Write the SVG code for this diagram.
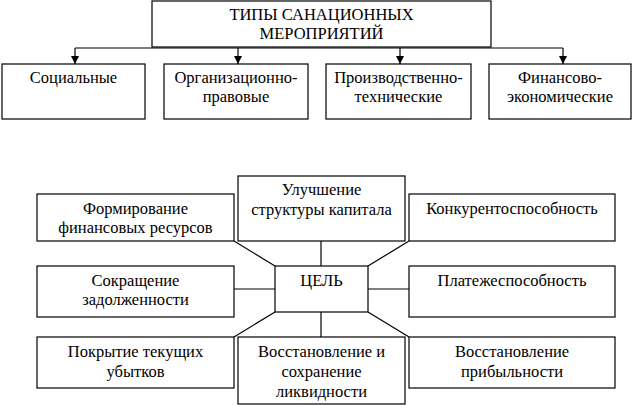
<svg xmlns="http://www.w3.org/2000/svg" width="633" height="405" viewBox="0 0 633 405">
<defs>
<style>
.b{fill:#fff;stroke:#000;stroke-width:1.2}
.t{font-family:'Liberation Serif','DejaVu Serif','Times New Roman',serif;font-size:16.5px;fill:#000;text-anchor:middle}
.c{stroke:#000;stroke-width:1.2;fill:none}
</style>
<marker id="ah" viewBox="0 0 8 10" refX="8" refY="5" markerWidth="8" markerHeight="10" markerUnits="userSpaceOnUse" orient="auto">
<path d="M0,1 L8,5 L0,9 z" fill="#000"/>
</marker>
</defs>
<rect width="633" height="405" fill="#fff"/>
<g id="connectors">
<path class="c" d="M75,48 H563"/>
<path class="c" d="M75,48 V64" marker-end="url(#ah)"/>
<path class="c" d="M238,48 V64" marker-end="url(#ah)"/>
<path class="c" d="M400,48 V64" marker-end="url(#ah)"/>
<path class="c" d="M563,48 V64" marker-end="url(#ah)"/>
<path class="c" d="M234,241 L275,266"/>
<path class="c" d="M321,241 V266"/>
<path class="c" d="M409,241 L368,266"/>
<path class="c" d="M234,289 H275"/>
<path class="c" d="M368,289 H409"/>
<path class="c" d="M275,312 L234,337"/>
<path class="c" d="M321,312 V337"/>
<path class="c" d="M368,312 L409,337"/>
</g>
<g id="top">
<rect class="b" x="152" y="1" width="339" height="46"/>
<text class="t" x="321.5" y="20">ТИПЫ САНАЦИОННЫХ</text>
<text class="t" x="321.5" y="39">МЕРОПРИЯТИЙ</text>
</g>
<g id="social">
<rect class="b" x="2" y="64" width="143" height="55"/>
<text class="t" x="73.5" y="83">Социальные</text>
</g>
<g id="org">
<rect class="b" x="164" y="64" width="144" height="55"/>
<text class="t" x="236" y="83">Организационно-</text>
<text class="t" x="236" y="102">правовые</text>
</g>
<g id="prod">
<rect class="b" x="326" y="64" width="145" height="55"/>
<text class="t" x="398.5" y="83">Производственно-</text>
<text class="t" x="398.5" y="102">технические</text>
</g>
<g id="fin">
<rect class="b" x="489" y="64" width="142" height="55"/>
<text class="t" x="560" y="83">Финансово-</text>
<text class="t" x="560" y="102">экономические</text>
</g>
<g id="improve">
<rect class="b" x="238" y="176" width="167" height="65"/>
<text class="t" x="321.5" y="195">Улучшение</text>
<text class="t" x="321.5" y="215">структуры капитала</text>
</g>
<g id="form">
<rect class="b" x="37" y="194" width="197" height="47"/>
<text class="t" x="135.5" y="214">Формирование</text>
<text class="t" x="135.5" y="233">финансовых ресурсов</text>
</g>
<g id="compet">
<rect class="b" x="409" y="194" width="206" height="47"/>
<text class="t" x="512" y="214">Конкурентоспособность</text>
</g>
<g id="goal">
<rect class="b" x="275" y="266" width="93" height="46"/>
<text class="t" x="321.5" y="286">ЦЕЛЬ</text>
</g>
<g id="debt">
<rect class="b" x="37" y="266" width="197" height="51"/>
<text class="t" x="135.5" y="286">Сокращение</text>
<text class="t" x="135.5" y="305">задолженности</text>
</g>
<g id="solv">
<rect class="b" x="409" y="266" width="206" height="51"/>
<text class="t" x="512" y="286">Платежеспособность</text>
</g>
<g id="loss">
<rect class="b" x="37" y="337" width="197" height="51"/>
<text class="t" x="135.5" y="357">Покрытие текущих</text>
<text class="t" x="135.5" y="377">убытков</text>
</g>
<g id="liq">
<rect class="b" x="238" y="337" width="167" height="67"/>
<text class="t" x="321.5" y="357">Восстановление и</text>
<text class="t" x="321.5" y="377">сохранение</text>
<text class="t" x="321.5" y="397">ликвидности</text>
</g>
<g id="profit">
<rect class="b" x="409" y="337" width="206" height="51"/>
<text class="t" x="512" y="357">Восстановление</text>
<text class="t" x="512" y="377">прибыльности</text>
</g>
</svg>
